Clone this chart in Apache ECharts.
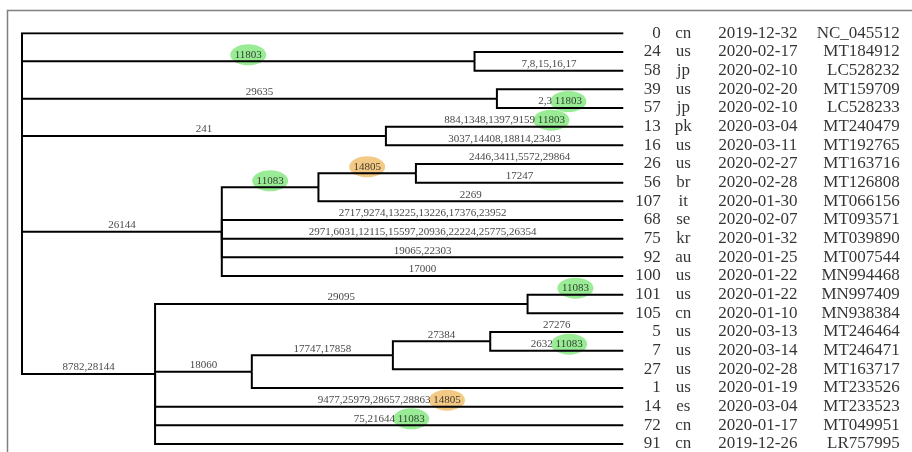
<!DOCTYPE html>
<html>
<head>
<meta charset="utf-8">
<script src="https://cdn.jsdelivr.net/npm/echarts@6/dist/echarts.min.js"></script>
<style>
  html, body { margin: 0; padding: 0; background: #fff; }
  #chart { width: 912px; height: 452px; }
</style>
</head>
<body>
<div id="chart"></div>
<script>
// ---- leaf data (top to bottom) ----
const leafIds = ['0','24','58','39','57','13','16','26','56','107','68','75','92','100','101','105','5','7','27','1','14','72','91'];
const leafCountries = ['cn','us','jp','us','jp','pk','us','us','br','it','se','kr','au','us','us','cn','us','us','us','us','es','cn','cn'];
const leafDates = ['2019-12-32','2020-02-17','2020-02-10','2020-02-20','2020-02-10','2020-03-04','2020-03-11','2020-02-27','2020-02-28','2020-01-30','2020-02-07','2020-01-32','2020-01-25','2020-01-22','2020-01-22','2020-01-10','2020-03-13','2020-03-14','2020-02-28','2020-01-19','2020-03-04','2020-01-17','2019-12-26'];
const leafAccessions = ['NC_045512','MT184912','LC528232','MT159709','LC528233','MT240479','MT192765','MT163716','MT126808','MT066156','MT093571','MT039890','MT007544','MN994468','MN997409','MN938384','MT246464','MT246471','MT163717','MT233526','MT233523','MT049951','LR757995'];
const leafParents = ['root','n1','n1','n2','n2','n3','n3','n6','n6','n5','n4','n4','n4','n4','n8','n8','n11','n11','n10','n9','n7','n7','n7'];
const leafMutations = ['','','7,8,15,16,17','','2,3','884,1348,1397,9159','3037,14408,18814,23403','2446,3411,5572,29864','17247','2269','2717,9274,13225,13226,17376,23952','2971,6031,12115,15597,20936,22224,25775,26354','19065,22303','17000','','','27276','2632','','','9477,25979,28657,28863','75,21644',''];
const leafMarkers = ['','','','','11803','11803','','','','','','','','','11083','','','11083','','','14805','11083',''];
const tipDepth = 100;

// ---- internal nodes ----
const nodeNames   = ['root','n1','n2','n3','n4','n5','n6','n7','n8','n9','n10','n11'];
const nodeParents = [null,'root','root','root','root','n4','n5','root','n7','n7','n9','n10'];
const nodeDepths  = [0, 75.26, 78.98, 60.52, 33.23, 49.30, 65.51, 22.13, 84.08, 38.22, 61.68, 77.87];
const nodeMutations = ['','','29635','241','26144','','','8782,28144','29095','18060','17747,17858','27384'];
const nodeMarkers   = ['','11803','','','','11083','14805','','','','',''];

// ---- styles ----
const markerColors = { '11803': '#7fe67a', '11083': '#7fe67a', '14805': '#f0bb68' };
const SERIF = '"Liberation Serif", "Times New Roman", serif';

// ---- build tree geometry ----
const nodes = {};
nodeNames.forEach((n, i) => { nodes[n] = { name: n, x: nodeDepths[i], parent: nodeParents[i], mut: nodeMutations[i], marker: nodeMarkers[i], children: [] }; });
const leaves = leafIds.map((id, i) => ({ name: 'leaf' + i, x: tipDepth, y: i, parent: leafParents[i], mut: leafMutations[i], marker: leafMarkers[i] }));
nodeNames.forEach((n, i) => { if (nodeParents[i]) nodes[nodeParents[i]].children.push(nodes[n]); });
leaves.forEach(l => nodes[l.parent].children.push(l));
function layoutY(n) {
  if (n.y !== undefined) return n.y;
  const ys = n.children.map(layoutY);
  n.y = (Math.min(...ys) + Math.max(...ys)) / 2;
  return n.y;
}
layoutY(nodes.root);

const branches = [];
const labelItems = [];
const ellipseItems = [];
const ctx = document.createElement('canvas').getContext('2d');
ctx.font = '11px ' + SERIF;
function addBranch(child) {
  const p = nodes[child.parent];
  branches.push({ coords: [[p.x, p.y], [p.x, child.y], [child.x, child.y]] });
  const mid = (p.x + child.x) / 2;
  const text = [child.mut, child.marker].filter(s => s).join(' ');
  if (text) {
    labelItems.push({ value: [mid, child.y], text: text });
    if (child.marker) {
      const total = ctx.measureText(text).width;
      const mw = ctx.measureText(child.marker).width;
      const dx = (total - mw / 2) - total / 2;
      ellipseItems.push({ value: [mid, child.y], symbolOffset: [dx, -6.5], itemStyle: { color: markerColors[child.marker] } });
    }
  }
}
nodeNames.forEach(n => { if (nodes[n].parent) addBranch(nodes[n]); });
leaves.forEach(addBranch);

function columnSeries(values, dx, align) {
  return {
    type: 'scatter', symbolSize: 0, z: 5, silent: true,
    itemStyle: { color: 'transparent' },
    data: values.map((v, i) => ({ value: [tipDepth, i], name: v })),
    label: {
      show: true, position: 'inside', offset: [dx, 0], align: align, verticalAlign: 'middle',
      formatter: p => p.name, fontFamily: SERIF, fontSize: 17, color: '#000'
    }
  };
}

const chart = echarts.init(document.getElementById('chart'), null, { renderer: 'canvas' });
chart.setOption({
  animation: false,
  backgroundColor: '#fff',
  graphic: [{
    type: 'rect', shape: { x: 7.5, y: 10.5, width: 1200, height: 1000 },
    style: { fill: 'none', stroke: '#808080', lineWidth: 1.5 }, silent: true, z: 0
  }],
  grid: { left: 22, right: 288.7, top: 33.3, bottom: 8, containLabel: false },
  xAxis: { type: 'value', min: 0, max: tipDepth, show: false },
  yAxis: { type: 'value', min: 0, max: leafIds.length - 1, inverse: true, show: false },
  series: [
    {
      type: 'scatter', symbol: 'circle', symbolSize: [36, 21], z: 1, silent: true,
      data: ellipseItems
    },
    {
      type: 'lines', coordinateSystem: 'cartesian2d', polyline: true, z: 2, silent: true,
      lineStyle: { color: '#000', width: 2, opacity: 1, join: 'miter' },
      data: branches
    },
    {
      type: 'scatter', symbolSize: 0, z: 3, silent: true,
      itemStyle: { color: 'transparent' },
      data: labelItems.map(d => ({ value: d.value, name: d.text })),
      label: {
        show: true, position: 'inside', offset: [0, -6.5], align: 'center', verticalAlign: 'middle',
        formatter: p => p.name, fontFamily: SERIF, fontSize: 11, color: '#111'
      }
    },
    columnSeries(leafIds, 37.5, 'right'),
    columnSeries(leafCountries, 60, 'center'),
    columnSeries(leafDates, 134.5, 'center'),
    columnSeries(leafAccessions, 276.5, 'right')
  ]
});
</script>
</body>
</html>
